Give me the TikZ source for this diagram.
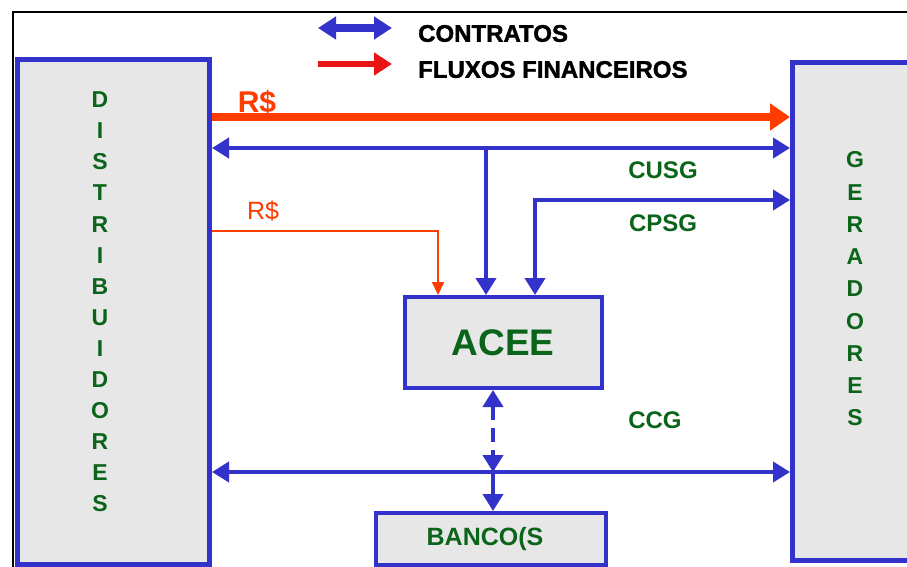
\documentclass[tikz,border=0pt]{standalone}
\usepackage{fontspec}
\setmainfont{Liberation Sans}
\newfontfamily\heavyfont[FakeBold=1.6]{Liberation Sans}
\usetikzlibrary{arrows.meta,calc}
\definecolor{cblue}{RGB}{51,51,204}
\definecolor{cred}{RGB}{255,60,0}
\definecolor{lred}{RGB}{235,20,20}
\definecolor{cgreen}{RGB}{10,100,25}
\definecolor{cgray}{RGB}{231,231,231}
\tikzset{
  x=1pt,y=-1pt,
  bigbox/.style={draw=cblue,fill=cgray,line width=5pt,inner sep=0pt},
  midbox/.style={draw=cblue,fill=cgray,line width=4pt,inner sep=0pt},
  gtext/.style={text=cgreen,font=\fontsize{24}{28}\selectfont\bfseries,inner sep=0pt},
  contract/.style={draw=cblue,line width=4pt,{Triangle[length=17pt,width=20pt]}-{Triangle[length=17pt,width=20pt]}},
  contone/.style={draw=cblue,line width=4pt,-{Triangle[length=17pt,width=20pt]}},
  money/.style={draw=cred,line width=8pt,-{Triangle[length=20pt,width=26pt]}},
  moneythin/.style={draw=cred,line width=2pt,-{Triangle[length=13pt,width=12pt]}},
  legendtext/.style={anchor=west,inner sep=0pt,font=\heavyfont\fontsize{24}{28}\selectfont\bfseries},
}
\begin{document}
\begin{tikzpicture}
\useasboundingbox (0,0) rectangle (907,567);
\clip (0,0) rectangle (907,567);
\fill[white] (0,0) rectangle (907,567);
% outer frame
\draw[black,line width=2.5pt] (13,590) -- (13,12) -- (930,12);

% main boxes
\node[bigbox,minimum width=192pt,minimum height=504.5pt] (dist) at (113.5,311.75) {};
\node[bigbox,minimum width=180pt,minimum height=498pt] (ger) at (882.5,311.5) {};
\node[midbox,minimum width=197pt,minimum height=91pt] (acee) at (503.5,342.5) {};
\node[midbox,minimum width=230pt,minimum height=52pt] (banco) at (491,539) {};

% box texts
\node[text=cgreen,font=\fontsize{23}{31.1}\selectfont\bfseries,align=center,inner sep=0pt] (distt) at (100,302)
  {D\\I\\S\\T\\R\\I\\B\\U\\I\\D\\O\\R\\E\\S};
\node[text=cgreen,font=\fontsize{23}{32.25}\selectfont\bfseries,align=center,inner sep=0pt] (gert) at (855,289)
  {G\\E\\R\\A\\D\\O\\R\\E\\S};
\node[text=cgreen,font=\fontsize{37}{40}\selectfont\bfseries,inner sep=0pt] (aceet) at (503,343) {ACEE};
\node[gtext,font=\fontsize{25}{28}\selectfont\bfseries] (bancot) at (485,539) {BANCO(S};

% legend
\coordinate (lb1) at (318,28);
\coordinate (lb2) at (392,28);
\coordinate (lr1) at (318,64);
\coordinate (lr2) at (392,64);
\draw[draw=cblue,line width=8pt,{Triangle[length=18pt,width=22pt]}-{Triangle[length=18pt,width=22pt]}] (lb1) -- (lb2);
\draw[draw=lred,line width=6pt,-{Triangle[length=18pt,width=22pt]}] (lr1) -- (lr2);
\node[legendtext] (lc) at (418,33.5) {CONTRATOS};
\node[legendtext] (lf) at (418,69.5) {FLUXOS FINANCEIROS};

% coordinates for connectors
\coordinate (yR) at (0,117);
\coordinate (yU) at (0,148);
\coordinate (yP) at (0,200);
\coordinate (yT) at (0,231);
\coordinate (yC) at (0,472);
\coordinate (xU) at (486,0);
\coordinate (xP) at (535,0);
\coordinate (xT) at (438,0);
\coordinate (xB) at (493,0);

% red thick money flow
\draw[money] (dist.east |- yR) -- (ger.west |- yR);
\node[text=cred,font=\fontsize{30}{32}\selectfont\bfseries,inner sep=0pt] (r1) at (257,102) {R\$};

% CUSG
\draw[contract] (dist.east |- yU) -- (ger.west |- yU);
\draw[contone] (xU |- yU) -- (acee.north -| xU);
\node[gtext] (cusg) at (663,170) {CUSG};

% CPSG
\draw[contract] (acee.north -| xP) -- (xP |- yP) -- (ger.west |- yP);
\node[gtext] (cpsg) at (663,223) {CPSG};

% red thin
\draw[moneythin] (dist.east |- yT) -- (xT |- yT) -- (acee.north -| xT);
\node[text=cred,font=\fontsize{25}{28}\selectfont,inner sep=0pt] (r2) at (263,211) {R\$};

% CCG
\draw[contract] (dist.east |- yC) -- (ger.west |- yC);
\node[gtext] (ccg) at (655,420) {CCG};
\draw[contract,dash pattern=on 14pt off 8pt] (acee.south -| xB) -- (xB |- yC);
\draw[contone] (xB |- yC) -- (banco.north -| xB);
\end{tikzpicture}
\end{document}
